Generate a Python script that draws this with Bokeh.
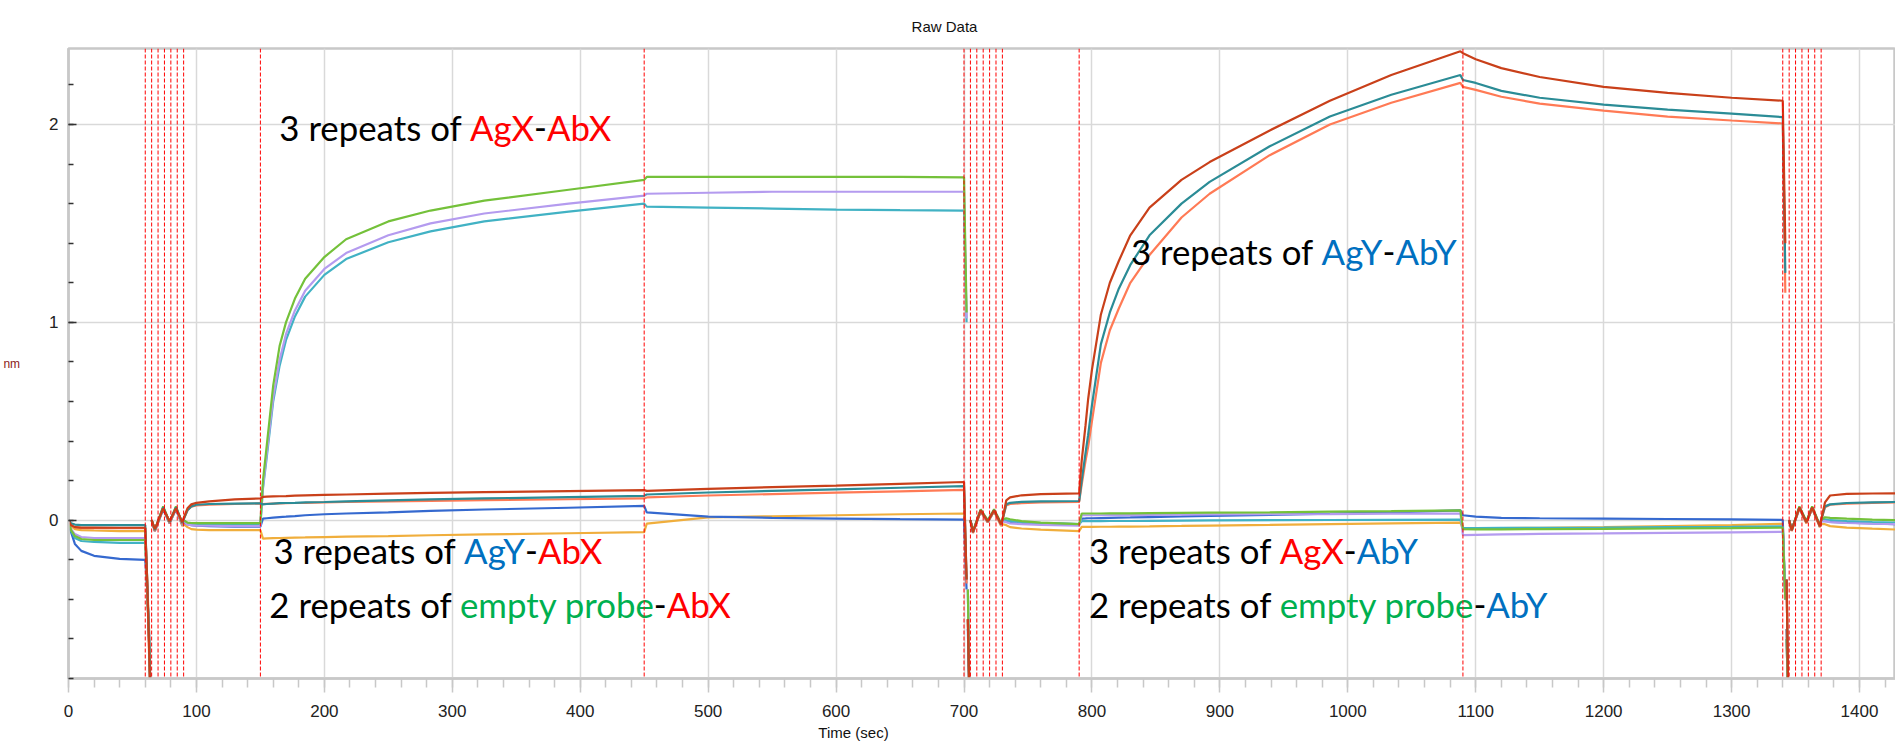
import glob
import os
from bokeh.plotting import figure
from bokeh.models import Span, Title, SingleIntervalTicker, Range1d
from bokeh.core.properties import value
from bokeh.embed import file_html
from bokeh.resources import INLINE

nan = float("nan")

# ---------------- data ----------------
time_s = [
    0, 2, 5, 10, 20, 40, 60, 61.5, 63, 64.5,
    nan,
    65, 67.5, 74, 79, 84, 89, 90,
    93, 96, 100, 110, 130, 150,
    152, 155, 160, 165, 170, 177, 185, 200, 217, 250, 283, 325, 391, 450,
    452, 500, 550, 600, 650, 700, 702,
    nan,
    703, 704.5,
    nan,
    705, 707, 713, 718.5, 723.5, 729, 730,
    733, 736, 745, 760, 790,
    792, 795, 797, 800, 807, 814, 821, 830, 845, 870, 892, 939, 986, 1034, 1088,
    1090, 1100, 1120, 1150, 1200, 1250, 1300, 1340, 1342,
    nan,
    1343, 1344.5,
    nan,
    1345, 1347, 1353, 1358.5, 1363, 1369, 1370,
    1373, 1377, 1390, 1410, 1428,
]

dark_red = [
    0, -0.025, -0.035, -0.037, -0.037, -0.038, -0.038, -0.3, -0.65, -1.0,
    nan,
    0.0, -0.045, 0.06, -0.005, 0.06, -0.01, 0.01,
    0.06, 0.08, 0.088, 0.095, 0.105, 0.11,
    0.118, 0.119, 0.12, 0.121, 0.122, 0.124, 0.126, 0.128, 0.13, 0.134, 0.138, 0.142, 0.147, 0.152,
    0.148, 0.158, 0.167, 0.175, 0.184, 0.193, -0.3,
    nan,
    -0.5, -1.0,
    nan,
    0.0, -0.06, 0.05, -0.005, 0.05, -0.02, 0.0,
    0.1, 0.115, 0.126, 0.132, 0.136,
    0.3, 0.48, 0.61, 0.76, 1.04, 1.2, 1.31, 1.44, 1.58, 1.72, 1.81, 1.97, 2.12, 2.25, 2.37,
    2.36, 2.33, 2.285, 2.24, 2.19, 2.16, 2.135, 2.12, 1.4,
    nan,
    -0.3, -1.0,
    nan,
    0.0, -0.05, 0.065, -0.01, 0.065, -0.03, 0.0,
    0.09, 0.125, 0.133, 0.135, 0.136,
]

teal = [
    0, -0.015, -0.022, -0.025, -0.025, -0.025, -0.025, -0.3, -0.62, -1.0,
    nan,
    0.0, -0.05, 0.065, -0.01, 0.065, -0.015, 0.005,
    0.05, 0.07, 0.078, 0.082, 0.084, 0.085,
    0.08, 0.082, 0.084, 0.086, 0.087, 0.088, 0.09, 0.092, 0.095, 0.1, 0.105, 0.11, 0.117, 0.123,
    0.13, 0.14, 0.148, 0.156, 0.164, 0.172, -0.3,
    nan,
    -0.5, -1.0,
    nan,
    0.0, -0.06, 0.05, -0.005, 0.05, -0.02, 0.0,
    0.08, 0.088, 0.093, 0.095, 0.097,
    0.2, 0.34, 0.43, 0.58, 0.89, 1.05, 1.17, 1.29, 1.44, 1.6, 1.71, 1.89, 2.04, 2.15, 2.25,
    2.225, 2.21, 2.17, 2.135, 2.10, 2.075, 2.055, 2.037, 1.25,
    nan,
    -0.3, -1.0,
    nan,
    0.0, -0.05, 0.065, -0.01, 0.065, -0.03, 0.0,
    0.07, 0.08, 0.087, 0.09, 0.092,
]

salmon = [
    0, -0.025, -0.035, -0.04, -0.04, -0.04, -0.04, -0.32, -0.68, -1.0,
    nan,
    0.0, -0.055, 0.06, -0.015, 0.06, -0.02, 0.005,
    0.05, 0.068, 0.075, 0.078, 0.082, 0.085,
    0.082, 0.083, 0.084, 0.085, 0.086, 0.087, 0.088, 0.09, 0.092, 0.095, 0.098, 0.101, 0.106, 0.11,
    0.115, 0.125, 0.132, 0.139, 0.146, 0.153, -0.32,
    nan,
    -0.5, -1.0,
    nan,
    0.0, -0.065, 0.045, -0.01, 0.045, -0.025, 0.0,
    0.075, 0.082, 0.086, 0.09, 0.093,
    0.18, 0.3, 0.37, 0.5, 0.795, 0.96, 1.07, 1.2, 1.34, 1.53, 1.65, 1.845, 2.0, 2.11, 2.21,
    2.19, 2.175, 2.14, 2.105, 2.07, 2.04, 2.02, 2.005, 1.15,
    nan,
    -0.3, -1.0,
    nan,
    0.0, -0.055, 0.06, -0.015, 0.06, -0.035, 0.0,
    0.065, 0.078, 0.084, 0.088, 0.09,
]

green = [
    0, -0.05, -0.08, -0.095, -0.1, -0.1, -0.1, -0.35, -0.6, -1.0,
    nan,
    0.0, -0.05, 0.07, -0.01, 0.07, -0.02, 0.0,
    -0.012, -0.014, -0.015, -0.015, -0.015, -0.015,
    0.2, 0.38, 0.68, 0.88, 1.0, 1.12, 1.22, 1.33, 1.42, 1.51, 1.565, 1.615, 1.67, 1.72,
    1.735, 1.735, 1.735, 1.735, 1.735, 1.733, 1.05,
    nan,
    -0.35, -1.0,
    nan,
    0.0, -0.055, 0.055, 0.0, 0.055, -0.015, 0.005,
    0.01, 0.005, -0.005, -0.012, -0.02,
    0.034, 0.034, 0.034, 0.034, 0.034, 0.035, 0.035, 0.035, 0.036, 0.037, 0.038, 0.04, 0.043, 0.046, 0.05,
    -0.045, -0.046, -0.046, -0.045, -0.044, -0.042, -0.04, -0.038, -0.4,
    nan,
    -0.6, -1.0,
    nan,
    0.0, -0.05, 0.07, -0.005, 0.07, -0.025, 0.0,
    0.015, 0.012, 0.008, 0.003, 0.0,
]

lavender = [
    0, -0.045, -0.07, -0.085, -0.09, -0.09, -0.09, -0.33, -0.58, -1.0,
    nan,
    0.0, -0.05, 0.065, -0.01, 0.065, -0.025, -0.005,
    -0.022, -0.025, -0.027, -0.028, -0.03, -0.03,
    0.17, 0.34, 0.62, 0.81, 0.94, 1.06, 1.16, 1.27, 1.35, 1.44, 1.50, 1.55, 1.60, 1.64,
    1.65, 1.655, 1.66, 1.66, 1.66, 1.66, 1.02,
    nan,
    -0.35, -1.0,
    nan,
    0.0, -0.06, 0.05, -0.005, 0.05, -0.025, -0.005,
    -0.01, -0.016, -0.02, -0.024, -0.028,
    0.025, 0.025, 0.025, 0.025, 0.025, 0.026, 0.026, 0.026, 0.027, 0.028, 0.029, 0.03, 0.031, 0.033, 0.034,
    -0.075, -0.074, -0.072, -0.069, -0.067, -0.064, -0.061, -0.059, -0.4,
    nan,
    -0.6, -1.0,
    nan,
    0.0, -0.05, 0.06, -0.01, 0.06, -0.03, -0.005,
    -0.005, -0.01, -0.014, -0.018, -0.02,
]

cyan = [
    0, -0.055, -0.09, -0.105, -0.11, -0.115, -0.115, -0.35, -0.62, -1.0,
    nan,
    0.0, -0.05, 0.06, -0.01, 0.06, -0.02, 0.0,
    -0.015, -0.018, -0.02, -0.02, -0.02, -0.02,
    0.16, 0.32, 0.6, 0.78, 0.91, 1.03, 1.13, 1.24, 1.32, 1.405, 1.46, 1.51, 1.56, 1.60,
    1.585, 1.58, 1.575, 1.57, 1.567, 1.565, 1.0,
    nan,
    -0.35, -1.0,
    nan,
    0.0, -0.06, 0.05, -0.005, 0.05, -0.02, 0.0,
    0.0, -0.005, -0.01, -0.015, -0.02,
    -0.005, -0.005, -0.005, -0.005, -0.005, -0.004, -0.004, -0.004, -0.003, -0.002, -0.001, 0.0, 0.001, 0.002, 0.003,
    -0.04, -0.04, -0.039, -0.038, -0.037, -0.035, -0.033, -0.031, -0.4,
    nan,
    -0.6, -1.0,
    nan,
    0.0, -0.05, 0.065, -0.01, 0.065, -0.03, 0.0,
    0.005, 0.0, -0.005, -0.01, -0.012,
]

blue = [
    0, -0.06, -0.12, -0.155, -0.18, -0.195, -0.2, -0.35, -0.57, -1.0,
    nan,
    0.0, -0.055, 0.055, -0.015, 0.055, -0.025, -0.01,
    -0.02, -0.025, -0.028, -0.03, -0.032, -0.033,
    0.008, 0.01, 0.013, 0.016, 0.018, 0.021, 0.025, 0.03, 0.034, 0.04, 0.047, 0.054, 0.063, 0.072,
    0.04, 0.018, 0.012, 0.008, 0.005, 0.003, -0.35,
    nan,
    -0.55, -1.0,
    nan,
    0.0, -0.06, 0.045, -0.01, 0.045, -0.02, -0.005,
    -0.005, -0.008, -0.012, -0.016, -0.02,
    0.008, 0.009, 0.01, 0.01, 0.011, 0.012, 0.013, 0.014, 0.016, 0.019, 0.022, 0.027, 0.033, 0.04, 0.05,
    0.025, 0.018, 0.012, 0.01, 0.008, 0.006, 0.004, 0.002, -0.4,
    nan,
    -0.55, -1.0,
    nan,
    0.0, -0.05, 0.06, -0.01, 0.06, -0.03, -0.005,
    -0.003, -0.008, -0.012, -0.016, -0.02,
]

orange = [
    0, -0.03, -0.045, -0.05, -0.052, -0.055, -0.055, -0.3, -0.55, -1.0,
    nan,
    0.0, -0.05, 0.06, -0.015, 0.06, -0.03, -0.02,
    -0.035, -0.045, -0.048, -0.05, -0.05, -0.05,
    -0.093, -0.092, -0.091, -0.09, -0.089, -0.088, -0.087, -0.085, -0.083, -0.08, -0.076, -0.072, -0.066, -0.06,
    -0.017, 0.014, 0.02, 0.025, 0.03, 0.034, -0.3,
    nan,
    -0.5, -1.0,
    nan,
    0.0, -0.06, 0.045, -0.01, 0.045, -0.03, -0.02,
    -0.025, -0.035, -0.042, -0.048, -0.055,
    -0.034, -0.034, -0.034, -0.034, -0.033, -0.033, -0.032, -0.032, -0.031, -0.029, -0.027, -0.024, -0.02, -0.016, -0.012,
    -0.045, -0.042, -0.04, -0.038, -0.035, -0.03, -0.025, -0.018, -0.4,
    nan,
    -0.55, -1.0,
    nan,
    0.0, -0.05, 0.06, -0.015, 0.06, -0.035, -0.02,
    -0.02, -0.03, -0.037, -0.043, -0.047,
]

step_boundaries = [60, 65, 70, 75, 80, 85, 90, 150, 450,
                   700, 705, 710, 715, 720, 725, 730, 790, 1090,
                   1340, 1345, 1350, 1355, 1360, 1365, 1370]

x_tick_interval = 100
y_tick_interval = 1

title_text = "Raw Data"
x_label = "Time (sec)"
y_label = "nm"

BLACK, RED, BLUE, GREEN = "#000000", "#FF0000", "#0070C0", "#00B050"
annotation_texts = [
    [("3 repeats of ", BLACK), ("AgX", RED), ("-", BLACK), ("AbX", RED)],
    [("3 repeats of ", BLACK), ("AgY", BLUE), ("-", BLACK), ("AbY", BLUE)],
    [("3 repeats of ", BLACK), ("AgY", BLUE), ("-", BLACK), ("AbX", RED)],
    [("2 repeats of ", BLACK), ("empty probe", GREEN), ("-", BLACK), ("AbX", RED)],
    [("3 repeats of ", BLACK), ("AgX", RED), ("-", BLACK), ("AbY", BLUE)],
    [("2 repeats of ", BLACK), ("empty probe", GREEN), ("-", BLACK), ("AbY", BLUE)],
]

# ---------------- styling / layout ----------------
series = [
    (orange, "#F0AE3C"),
    (blue, "#3569CF"),
    (cyan, "#41B2C4"),
    (lavender, "#B49BEF"),
    (green, "#74C13A"),
    (salmon, "#FF7A55"),
    (teal, "#2B8C96"),
    (dark_red, "#C9401A"),
]
for s, _ in series:
    assert len(s) == len(time_s)

annotation_anchor = [(164.8, 1.985), (830.5, 1.359), (160.2, -0.152),
                     (157.0, -0.424), (797.7, -0.152), (797.7, -0.424)]

FIG_W, FIG_H = 1895, 751
LEFT, TOP, BOTTOM = 67, 48, 73
PX_PER_SEC = 1.28
X_END = (FIG_W - LEFT) / PX_PER_SEC
Y_MIN, Y_MAX = -0.8, 2.384


def find_font(fname):
    bases = ["/usr/share/fonts", "/usr/local/share/fonts",
             os.path.expanduser("~/.fonts"), os.path.expanduser("~/.local/share/fonts")]
    for b in bases:
        hits = glob.glob(os.path.join(b, "**", fname), recursive=True)
        if hits:
            return hits[0]
    return None


try:
    from PIL import ImageFont
except Exception:
    ImageFont = None

ANN_FONT = "Lato"
ann_path = find_font("Lato-Regular.ttf")
if ann_path is None:
    ANN_FONT = "Open Sans"
    ann_path = find_font("OpenSans-Regular.ttf")

narrow_path = find_font("LiberationSansNarrow-Regular.ttf")
if narrow_path:
    TICK_FONT, tick_path = "Liberation Sans Narrow", narrow_path
else:
    TICK_FONT, tick_path = "Liberation Sans", find_font("LiberationSans-Regular.ttf")


def measure(text, size, path):
    if ImageFont is not None and path is not None:
        try:
            return ImageFont.truetype(path, size).getlength(text)
        except Exception:
            pass
    return 0.52 * size * len(text)


ref_w = measure("3 repeats of AgX-AbX", 100, ann_path)
ANN_SIZE = round(100 * 330.0 / ref_w, 1) if ref_w > 0 else 34

p = figure(width=FIG_W, height=FIG_H,
           x_range=Range1d(0, X_END), y_range=Range1d(Y_MIN, Y_MAX),
           output_backend="svg", toolbar_location=None,
           min_border_left=LEFT, min_border_right=0,
           min_border_top=TOP, min_border_bottom=BOTTOM)
p.background_fill_color = "white"
p.border_fill_color = "white"
p.outline_line_color = "#c8c8c8"
p.outline_line_width = 2.5

p.xaxis.ticker = SingleIntervalTicker(interval=x_tick_interval, num_minor_ticks=5)
p.yaxis.ticker = SingleIntervalTicker(interval=y_tick_interval, num_minor_ticks=5)

for ax in (p.xaxis, p.yaxis):
    ax.axis_line_color = "#c8c8c8"
    ax.axis_line_width = 2.5
    ax.major_label_text_font = TICK_FONT
    ax.major_label_text_font_size = "17px"
    ax.major_label_text_color = "#222222"

p.xaxis.major_tick_line_color = "#c8c8c8"
p.xaxis.major_tick_line_width = 1.5
p.xaxis.major_tick_out = 14
p.xaxis.major_tick_in = 0
p.xaxis.minor_tick_line_color = "#c8c8c8"
p.xaxis.minor_tick_line_width = 1.5
p.xaxis.minor_tick_out = 9
p.xaxis.minor_tick_in = 0
p.xaxis.major_label_standoff = 12

p.yaxis.major_tick_line_color = "#333333"
p.yaxis.major_tick_line_width = 1.5
p.yaxis.major_tick_in = 8
p.yaxis.major_tick_out = 0
p.yaxis.minor_tick_line_color = "#333333"
p.yaxis.minor_tick_line_width = 1.5
p.yaxis.minor_tick_in = 5
p.yaxis.minor_tick_out = 0
p.yaxis.major_label_standoff = 10

yax = p.yaxis[0]
yax.axis_label = y_label
yax.axis_label_text_font = TICK_FONT
yax.axis_label_text_font_size = "12px"
yax.axis_label_text_font_style = "normal"
yax.axis_label_text_color = "#8B1A1A"
yax.axis_label_standoff = 26
try:
    yax.axis_label_orientation = "horizontal"
except Exception:
    pass

p.xgrid.grid_line_color = "#d9d9d9"
p.xgrid.grid_line_width = 1.5
p.ygrid.grid_line_color = "#d9d9d9"
p.ygrid.grid_line_width = 1.5

for vals, col in series:
    p.line(time_s, vals, line_color=col, line_width=2.2)

for b in step_boundaries:
    p.add_layout(Span(location=b, dimension="height", line_color="#FF0000",
                      line_width=1, line_dash="4 2"))

for (ax_, ay_), pieces in zip(annotation_anchor, annotation_texts):
    off = 0.0
    for txt, col in pieces:
        p.text(x=[ax_], y=[ay_], text=[txt], x_offset=off,
               text_color=col, text_font=value(ANN_FONT),
               text_font_size=f"{ANN_SIZE}px",
               text_baseline="middle", text_align="left")
        off += measure(txt, ANN_SIZE, ann_path)

# title centred at x≈943 px, x label centred at x≈852 px (as in the reference)
TITLE_SIZE = 15
tw = measure(title_text, TITLE_SIZE, tick_path)
p.add_layout(Title(text=title_text, align="left", offset=943 - LEFT - tw / 2,
                   standoff=27, text_font=TICK_FONT,
                   text_font_size=f"{TITLE_SIZE}px", text_font_style="normal",
                   text_color="#111111"), "above")
XL_SIZE = 15
xw = measure(x_label, XL_SIZE, tick_path)
p.add_layout(Title(text=x_label, align="left", offset=852 - LEFT - xw / 2,
                   standoff=4, text_font=TICK_FONT,
                   text_font_size=f"{XL_SIZE}px", text_font_style="normal",
                   text_color="#111111"), "below")

open("out.html", "w").write(file_html(p, INLINE))
